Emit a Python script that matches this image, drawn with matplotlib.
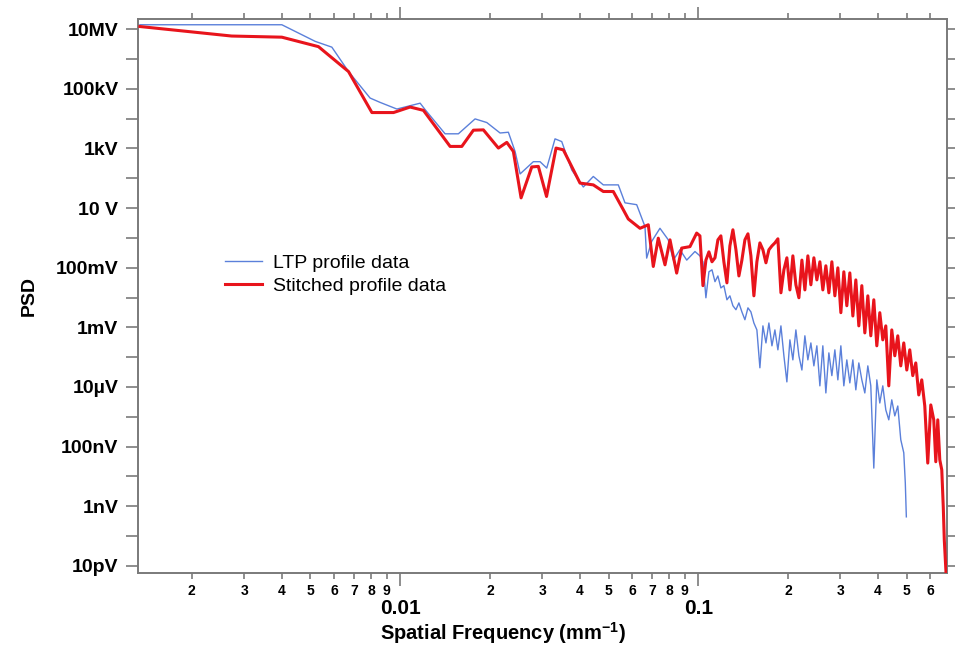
import matplotlib
matplotlib.use("Agg")
import matplotlib.pyplot as plt
from matplotlib.ticker import NullFormatter

plt.rcParams["font.family"] = ["Liberation Sans", "DejaVu Sans"]
plt.rcParams["font.weight"] = "bold"
plt.rcParams["mathtext.fontset"] = "custom"
plt.rcParams["mathtext.bf"] = "Liberation Sans:bold"

# spatial frequency (mm^-1) of the dense part above 0.1, shared by both curves
hf_freq = [0.1013, 0.1037, 0.1061, 0.1086, 0.1112, 0.1138, 0.1164, 0.1191, 0.1219, 0.1248,
           0.1277, 0.1307, 0.1338, 0.1369, 0.1401, 0.1434, 0.1468, 0.1502, 0.1537, 0.1573,
           0.1610, 0.1648, 0.1687, 0.1726, 0.1767, 0.1808, 0.1850, 0.1894, 0.1938, 0.1983,
           0.2030, 0.2077, 0.2126, 0.2176, 0.2227, 0.2279, 0.2332, 0.2387, 0.2443, 0.2500,
           0.2559, 0.2618, 0.2680, 0.2743, 0.2807, 0.2873, 0.2940, 0.3009, 0.3079, 0.3151,
           0.3225, 0.3301, 0.3378, 0.3457, 0.3538, 0.3621, 0.3706, 0.3792, 0.3881, 0.3972,
           0.4065, 0.4160, 0.4258, 0.4357, 0.4459, 0.4564, 0.4671, 0.4780, 0.4892, 0.5007,
           0.5124, 0.5244, 0.5367, 0.5493, 0.5621, 0.5754, 0.5888, 0.6027, 0.6167]

# LTP profile data
ltp_freq_low = [0.00134, 0.00401, 0.00519, 0.0059, 0.00671, 0.00793, 0.00857, 0.00975,
                0.01167, 0.01213, 0.01415, 0.01568, 0.01784, 0.01953, 0.02164, 0.02307,
                0.0243, 0.02526, 0.02798, 0.02946, 0.03103, 0.03308, 0.03484, 0.03764,
                0.04116, 0.04446, 0.04803, 0.05393, 0.05679, 0.06216, 0.06627, 0.06714,
                0.06979, 0.0744, 0.0793, 0.0825, 0.0868, 0.0915, 0.0975]
ltp_psd_low = [1.41e7, 1.41e7, 3.9e6, 2.5e6, 3.8e5, 4.9e4, 3.5e4, 2.1e4,
               3.3e4, 2.0e4, 3.1e3, 3.1e3, 9.8e3, 7.4e3, 3.3e3, 3.5e3,
               7.9e2, 1.4e2, 3.6e2, 3.6e2, 2.2e2, 2.1e3, 1.7e3, 1.9e2,
               51, 115, 60, 60, 15, 13, 2.4, 0.21,
               0.76, 2.1, 0.87, 0.18, 0.40, 0.18, 0.35]
ltp_freq_end = [0.4950, 0.4990]
ltp_psd_high = [0.25, 0.158, 0.0098, 0.073, 0.085, 0.034, 0.053, 0.021, 0.025, 0.0084,
                0.0114, 0.0053, 0.0039, 0.0066, 0.0033, 0.0018, 0.0045, 0.0033, 0.0014,
                8.2e-4, 4.4e-5, 1.12e-3, 3.0e-4, 1.4e-3, 2.4e-4, 8.2e-4, 1.76e-4, 1.12e-3, 1.11e-4,
                1.48e-5, 3.8e-4, 8.1e-5, 8.2e-4, 1.11e-4, 3.7e-5, 5.2e-4, 8.1e-5, 3.0e-4, 5.1e-5,
                2.4e-4, 1.09e-5, 2.4e-4, 6.3e-6, 1.39e-4, 2.4e-5, 1.76e-4, 1.73e-5, 2.4e-4, 1.09e-5,
                8.1e-5, 1.37e-5, 8.1e-5, 8.0e-6, 6.4e-5, 1.73e-5, 6.3e-6, 5.1e-5, 1.09e-5, 1.9e-8,
                1.73e-5, 2.9e-6, 1.09e-5, 1.7e-6, 7.9e-7, 3.7e-6, 1.07e-6, 2.3e-6, 1.7e-7, 6.2e-8,
                6.1e-9, 4.4e-10]

# Stitched profile data
stitched_freq_low = [0.00134, 0.00272, 0.00401, 0.00532, 0.00671, 0.00804, 0.0095, 0.0108,
                     0.01197, 0.01471, 0.0161, 0.01761, 0.01902, 0.02136, 0.02279, 0.02398,
                     0.02545, 0.02764, 0.02908, 0.03098, 0.03334, 0.03527, 0.04012, 0.04446,
                     0.04803, 0.05188, 0.05605, 0.05826, 0.06376, 0.06799, 0.07066, 0.07344,
                     0.07735, 0.0804, 0.08465, 0.08799, 0.0938, 0.0988]
stitched_psd_low = [1.23e7, 5.9e6, 5.4e6, 2.6e6, 3.8e5, 1.6e4, 1.6e4, 2.45e4,
                    1.9e4, 1.17e3, 1.17e3, 4.1e3, 4.2e3, 1.03e3, 1.6e3, 7.9e2,
                    22, 2.4e2, 2.5e2, 24.5, 1.03e3, 9.0e2, 69, 60,
                    36, 36, 8.8, 4.3, 2.1, 2.75, 0.11, 0.98,
                    0.125, 0.86, 0.066, 0.455, 0.51, 1.45]
stitched_freq_end = [0.6265, 0.6361, 0.6461, 0.6561, 0.6637, 0.669, 0.6793]
stitched_psd_high = [1.17, 0.025, 0.18, 0.34, 0.158, 0.215, 0.86, 1.17, 0.158, 0.031,
                     0.54, 1.87, 0.40, 0.053, 0.18, 0.86, 1.37, 0.25, 0.0114, 0.158,
                     0.68, 0.40, 0.146, 0.40, 0.54, 0.68, 0.93, 0.0144,
                     0.085, 0.215, 0.018, 0.25, 0.0267, 0.0098, 0.18, 0.018, 0.25, 0.0267,
                     0.215, 0.039, 0.158, 0.018, 0.116, 0.0144, 0.158, 0.0114, 0.099, 0.0031,
                     0.073, 0.0053, 0.067, 0.0024, 0.039, 0.00112, 0.025, 6.5e-4, 0.0114, 5.2e-4,
                     0.0084, 2.4e-4, 0.0031, 3.8e-4, 1.12e-3, 1.09e-5, 8.2e-4, 1.11e-4, 5.2e-4, 5.1e-5,
                     3.0e-4, 3.7e-5, 1.76e-4, 2.4e-5, 6.4e-5, 5.4e-6, 1.73e-5, 2.3e-6,
                     2.8e-8, 2.5e-6, 7.9e-7,
                     3.1e-8, 7.9e-7, 3.6e-8, 1.65e-8, 9.5e-10, 7.4e-11, 4e-12]

ltp_freq = ltp_freq_low + hf_freq[:69] + ltp_freq_end
ltp_psd = ltp_psd_low + ltp_psd_high
stitched_freq = stitched_freq_low + hf_freq + stitched_freq_end
stitched_psd = stitched_psd_low + stitched_psd_high

y_ticks = [1e7, 1e5, 1e3, 1e1, 1e-1, 1e-3, 1e-5, 1e-7, 1e-9, 1e-11]
y_labels = ["10MV", "100kV", "1kV", "10 V", "100mV", "1mV", "10µV", "100nV", "1nV", "10pV"]
y_minor = [1e6, 1e4, 1e2, 1e0, 1e-2, 1e-4, 1e-6, 1e-8, 1e-10]

x_ticks = [0.01, 0.1]
x_labels = ["0.01", "0.1"]
x_minor = [0.002, 0.003, 0.004, 0.005, 0.006, 0.007, 0.008, 0.009,
           0.02, 0.03, 0.04, 0.05, 0.06, 0.07, 0.08, 0.09,
           0.2, 0.3, 0.4, 0.5, 0.6]
x_minor_labels = ["2", "3", "4", "5", "6", "7", "8", "9",
                  "2", "3", "4", "5", "6", "7", "8", "9",
                  "2", "3", "4", "5", "6"]

fig = plt.figure(figsize=(9.55, 6.46), dpi=100)
ax = fig.add_axes([0.1445, 0.1135, 0.8471, 0.8571])

ax.plot(ltp_freq, ltp_psd, color="#5b80da", lw=1.0, label="LTP profile data", zorder=2)
ax.plot(stitched_freq, stitched_psd, color="#e8141c", lw=2.2,
        label="Stitched profile data", zorder=3)

ax.set_xscale("log")
ax.set_yscale("log")
ax.set_xlim(0.00132, 0.683)
ax.set_ylim(5.9e-12, 2.2e7)

ax.set_yticks(y_ticks, labels=y_labels)
ax.set_yticks(y_minor, minor=True)
ax.yaxis.set_minor_formatter(NullFormatter())
ax.set_xticks(x_ticks, labels=x_labels)
ax.set_xticks(x_minor, labels=x_minor_labels, minor=True)

for sp in ax.spines.values():
    sp.set_color("#7a7a7a")
    sp.set_linewidth(1.4)

ax.tick_params(axis="both", which="both", direction="out", color="#7a7a7a", width=1.2)
ax.tick_params(axis="x", which="both", top=True)
ax.tick_params(axis="x", which="major", length=9, pad=10, labelsize=15)
ax.tick_params(axis="x", which="minor", length=4.3, pad=3.5, labelsize=10)
ax.tick_params(axis="y", which="both", length=8.6, right=True, labelsize=14, pad=5.5)

ax.set_xlabel(r"Spatial Frequency (mm$^{\mathbf{-1}}$)", fontsize=14.5, fontweight="bold",
              ha="center", va="center")
ax.xaxis.set_label_coords(0.451, -0.109)
ax.set_ylabel("PSD", fontsize=14, fontweight="bold", ha="center", va="center")
ax.yaxis.set_label_coords(-0.135, 0.5)

ax.legend(frameon=False, loc="upper left", bbox_to_anchor=(0.1075, 0.5746),
          borderpad=0, borderaxespad=0, handlelength=1.9, handletextpad=0.57,
          labelspacing=0.26, prop={"size": 14, "weight": "normal"})

fig.savefig("out.png", dpi=100)
